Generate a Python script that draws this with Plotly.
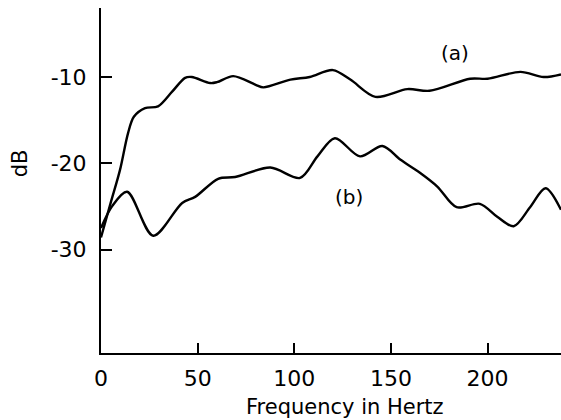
import plotly.graph_objects as go

# Curve (a)
freq_a = [0, 5, 9.8, 14, 17, 22.8, 29.5, 36.8, 43.5, 47, 56.5, 60, 68.4,
          80, 84, 98, 108, 120, 129, 142, 158.5, 170, 191, 200, 217, 229, 238]
db_a = [-28.6, -24.6, -20.8, -16.5, -14.6, -13.6, -13.4, -11.7, -10.1, -10.0,
        -10.7, -10.6, -9.9, -10.9, -11.2, -10.3, -10.0, -9.2, -10.3, -12.3, -11.4,
        -11.6, -10.2, -10.2, -9.4, -10.0, -9.7]

# Curve (b)
freq_b = [0, 5.7, 13.5, 27, 42, 48.7, 60.6, 69.4, 87.6, 103, 112, 121, 134, 145.6,
          155, 165, 174, 184, 196, 205, 213.5, 222, 230, 238]
db_b = [-27.5, -25.0, -23.3, -28.4, -24.6, -23.9, -21.8, -21.6, -20.5, -21.7, -19.2,
        -17.1, -19.2, -18.0, -19.6, -21.1, -22.7, -25.1, -24.7, -26.2, -27.3, -25.1,
        -22.9, -25.4]

x_ticks = [0, 50, 100, 150, 200]
y_ticks = [-10, -20, -30]
y_tick_text = ["-10", "-20", "-30"]

FONT = "DejaVu Sans"

fig = go.Figure()
for xs, ys in [(freq_a, db_a), (freq_b, db_b)]:
    fig.add_trace(go.Scatter(x=xs, y=ys, mode="lines",
                             line=dict(color="black", width=2.4, shape="spline", smoothing=0.9),
                             showlegend=False, hoverinfo="skip"))

fig.update_layout(
    width=561, height=420,
    margin=dict(l=101, r=0, t=8, b=67),
    paper_bgcolor="white", plot_bgcolor="white",
    font=dict(family=FONT, color="black"),
    xaxis=dict(range=[0, 238], tickvals=x_ticks, ticks="inside", ticklen=10, tickwidth=1.5,
               tickcolor="black", showline=True, linecolor="black", linewidth=2,
               showgrid=False, zeroline=False, tickfont=dict(size=22, family=FONT),
               ticklabelstandoff=5),
    yaxis=dict(range=[-42, -2], tickvals=y_ticks, ticktext=y_tick_text, ticks="inside",
               ticklen=11, tickwidth=1.5, tickcolor="black", showline=True, linecolor="black",
               linewidth=2, showgrid=False, zeroline=False, tickfont=dict(size=22, family=FONT),
               ticklabelstandoff=8),
    annotations=[
        dict(text="(a)", x=183, y=-7.2, xref="x", yref="y", showarrow=False,
             font=dict(size=20, family=FONT)),
        dict(text="(b)", x=128.5, y=-23.9, xref="x", yref="y", showarrow=False,
             font=dict(size=20, family=FONT)),
        dict(text="dB", x=(20 - 101) / 460, y=-20, xref="paper", yref="y", showarrow=False,
             textangle=-90, xanchor="center", yanchor="middle", font=dict(size=21, family=FONT)),
        dict(text="Frequency in Hertz", x=(345 - 101) / 460, y=(353 - 407) / 345,
             xref="paper", yref="paper", showarrow=False, xanchor="center", yanchor="middle",
             font=dict(size=21, family=FONT)),
    ],
)

fig.write_html("out.html", config={"displayModeBar": False},
               post_script="document.body.style.margin='0';document.body.style.overflow='hidden';")
